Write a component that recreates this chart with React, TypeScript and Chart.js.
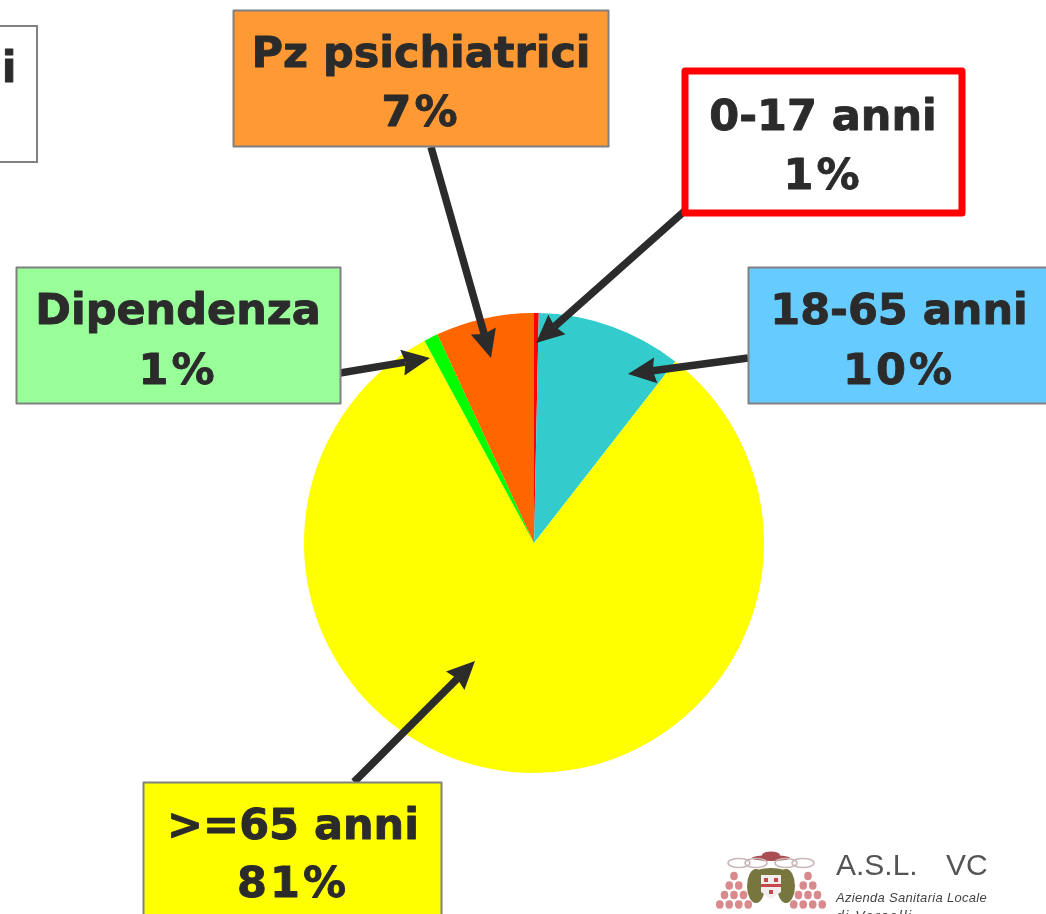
import React, { useEffect, useRef } from "react";
import { Chart, registerables } from "chart.js";

Chart.register(...registerables);

const categories = ["0-17 anni", "18-65 anni", ">=65 anni", "Dipendenza", "Pz psichiatrici"];
const drawnShares = [0.33, 10.2, 81.6, 1.0, 6.9];
const labelShares = ["1%", "10%", "81%", "1%", "7%"];
const sliceColors = ["#ff0000", "#33cccc", "#ffff00", "#00ff00", "#ff6600"];

const WIDTH = 1046;
const HEIGHT = 914;
const INK = "#2b2b2b";
const FONT = 'bold 43px "DejaVu Sans"';

type Callout = {
  index: number; x: number; y: number; w: number; h: number; fill: string; border: string; bw: number;
  tx: number; y1: number; y2: number; from: [number, number]; to: [number, number];
};

const callouts: Callout[] = [
  { index: 4, x: 233.5, y: 10.5, w: 375, h: 136, fill: "#ff9933", border: "#808080", bw: 2, tx: 421, y1: 56, y2: 115, from: [431, 147], to: [491, 358] },
  { index: 0, x: 685, y: 71, w: 277, h: 142, fill: "#ffffff", border: "#ff0000", bw: 7, tx: 823, y1: 119, y2: 178, from: [688, 208], to: [536, 343] },
  { index: 1, x: 748.5, y: 267.5, w: 320, h: 136, fill: "#66ccff", border: "#808080", bw: 2, tx: 899, y1: 313, y2: 373, from: [748, 358], to: [628, 374] },
  { index: 3, x: 16.5, y: 267.5, w: 324, h: 136, fill: "#99ff99", border: "#808080", bw: 2, tx: 178, y1: 313, y2: 373, from: [340, 373], to: [430, 358] },
  { index: 2, x: 143.5, y: 782.5, w: 298, h: 160, fill: "#ffff00", border: "#808080", bw: 2, tx: 293, y1: 828, y2: 886, from: [354, 782], to: [475, 661] },
];

function arrow(ctx: CanvasRenderingContext2D, from: [number, number], to: [number, number]) {
  const a = Math.atan2(to[1] - from[1], to[0] - from[0]);
  const len = 28;
  const notch = 25;
  const half = 13;
  const bx = to[0] - len * Math.cos(a);
  const by = to[1] - len * Math.sin(a);
  const nx = to[0] - notch * Math.cos(a);
  const ny = to[1] - notch * Math.sin(a);
  ctx.strokeStyle = INK;
  ctx.fillStyle = INK;
  ctx.lineWidth = 7.5;
  ctx.beginPath();
  ctx.moveTo(from[0], from[1]);
  ctx.lineTo(nx, ny);
  ctx.stroke();
  ctx.beginPath();
  ctx.moveTo(to[0], to[1]);
  ctx.lineTo(bx - half * Math.sin(a), by + half * Math.cos(a));
  ctx.lineTo(nx, ny);
  ctx.lineTo(bx + half * Math.sin(a), by - half * Math.cos(a));
  ctx.closePath();
  ctx.fill();
}

function drawEmblem(ctx: CanvasRenderingContext2D) {
  // hat
  ctx.fillStyle = "#a94e52";
  ctx.beginPath();
  ctx.ellipse(771, 858, 19, 3, 0, 0, Math.PI * 2);
  ctx.fill();
  ctx.beginPath();
  ctx.ellipse(771, 855, 9, 3.5, 0, 0, Math.PI * 2);
  ctx.fill();
  // cords
  ctx.strokeStyle = "#c9b7b7";
  ctx.lineWidth = 1.5;
  for (const cx of [739, 756, 786, 803]) {
    ctx.beginPath();
    ctx.ellipse(cx, 863, 11, 4.5, 0, 0, Math.PI * 2);
    ctx.stroke();
  }
  // tassels
  ctx.fillStyle = "#d98a8c";
  for (const cx of [734, 808]) {
    for (let row = 0; row < 4; row++) {
      for (let i = 0; i <= row; i++) {
        ctx.beginPath();
        ctx.ellipse(cx + (i - row / 2) * 9.5, 876 + row * 9.5, 3.8, 4.2, 0, 0, Math.PI * 2);
        ctx.fill();
      }
    }
  }
  // supporters
  ctx.fillStyle = "#77763f";
  for (const cx of [756, 786]) {
    ctx.beginPath();
    ctx.ellipse(cx, 886, 9, 17, 0, 0, Math.PI * 2);
    ctx.fill();
  }
  ctx.beginPath();
  ctx.ellipse(771, 874, 18, 6, 0, 0, Math.PI * 2);
  ctx.fill();
  // shield
  ctx.fillStyle = "#f3ecec";
  ctx.beginPath();
  ctx.moveTo(761, 875);
  ctx.lineTo(781, 875);
  ctx.lineTo(781, 892);
  ctx.lineTo(771, 899);
  ctx.lineTo(761, 892);
  ctx.closePath();
  ctx.fill();
  ctx.fillStyle = "#c8474c";
  ctx.fillRect(761, 884, 20, 3);
  ctx.fillRect(764, 878, 4, 4);
  ctx.fillRect(774, 878, 4, 4);
  ctx.fillRect(769, 890, 4, 4);
}

function drawLogo(ctx: CanvasRenderingContext2D) {
  drawEmblem(ctx);
  ctx.textAlign = "left";
  ctx.textBaseline = "alphabetic";
  ctx.fillStyle = "#555555";
  ctx.font = '30px "Liberation Sans"';
  ctx.fillText("A.S.L.", 836, 875);
  ctx.fillText("VC", 946, 875);
  ctx.font = 'italic 13px "Liberation Sans"';
  ctx.fillStyle = "#444444";
  (ctx as any).letterSpacing = "0.3px";
  ctx.fillText("Azienda Sanitaria Locale", 836, 902);
  ctx.font = 'italic 14px "Liberation Sans"';
  (ctx as any).letterSpacing = "1.5px";
  ctx.fillText("di Vercelli", 836, 921);
  (ctx as any).letterSpacing = "0px";
}

function heavyText(ctx: CanvasRenderingContext2D, text: string, x: number, y: number) {
  ctx.fillStyle = INK;
  ctx.strokeStyle = INK;
  ctx.lineWidth = 0.9;
  ctx.lineJoin = "round";
  ctx.font = FONT;
  ctx.textAlign = "center";
  ctx.textBaseline = "middle";
  ctx.fillText(text, x, y);
  ctx.strokeText(text, x, y);
}

const overlay = {
  id: "calloutOverlay",
  afterDraw(chart: Chart) {
    const ctx = chart.ctx;
    ctx.save();

    // partly cropped box at top left
    ctx.fillStyle = "#ffffff";
    ctx.strokeStyle = "#808080";
    ctx.lineWidth = 2;
    ctx.fillRect(-10, 26, 47, 136);
    ctx.strokeRect(-10, 26, 47, 136);
    heavyText(ctx, "i", 9, 71);

    for (const c of callouts) arrow(ctx, c.from, c.to);

    for (const c of callouts) {
      ctx.fillStyle = c.fill;
      ctx.strokeStyle = c.border;
      ctx.lineWidth = c.bw;
      ctx.fillRect(c.x, c.y, c.w, c.h);
      ctx.strokeRect(c.x, c.y, c.w, c.h);
      heavyText(ctx, categories[c.index], c.tx, c.y1);
      (ctx as any).letterSpacing = "3px";
      heavyText(ctx, labelShares[c.index], c.tx, c.y2);
      (ctx as any).letterSpacing = "0px";
    }

    drawLogo(ctx);
    ctx.restore();
  },
};

export default function App() {
  const ref = useRef<HTMLCanvasElement>(null);

  useEffect(() => {
    const chart = new Chart(ref.current!, {
      type: "pie",
      data: {
        labels: categories,
        datasets: [{ data: drawnShares, backgroundColor: sliceColors, borderWidth: 0 }],
      },
      options: {
        responsive: false,
        animation: false,
        rotation: 0,
        layout: { padding: { left: 304, right: 282, top: 313, bottom: 141 } },
        plugins: { legend: { display: false }, tooltip: { enabled: false } },
      },
      plugins: [overlay],
    });
    return () => chart.destroy();
  }, []);

  return (
    <div style={{ position: "fixed", left: 0, top: 0, width: WIDTH, height: HEIGHT, overflow: "hidden", background: "#ffffff" }}>
      <canvas ref={ref} width={WIDTH} height={HEIGHT} style={{ display: "block" }} />
    </div>
  );
}
